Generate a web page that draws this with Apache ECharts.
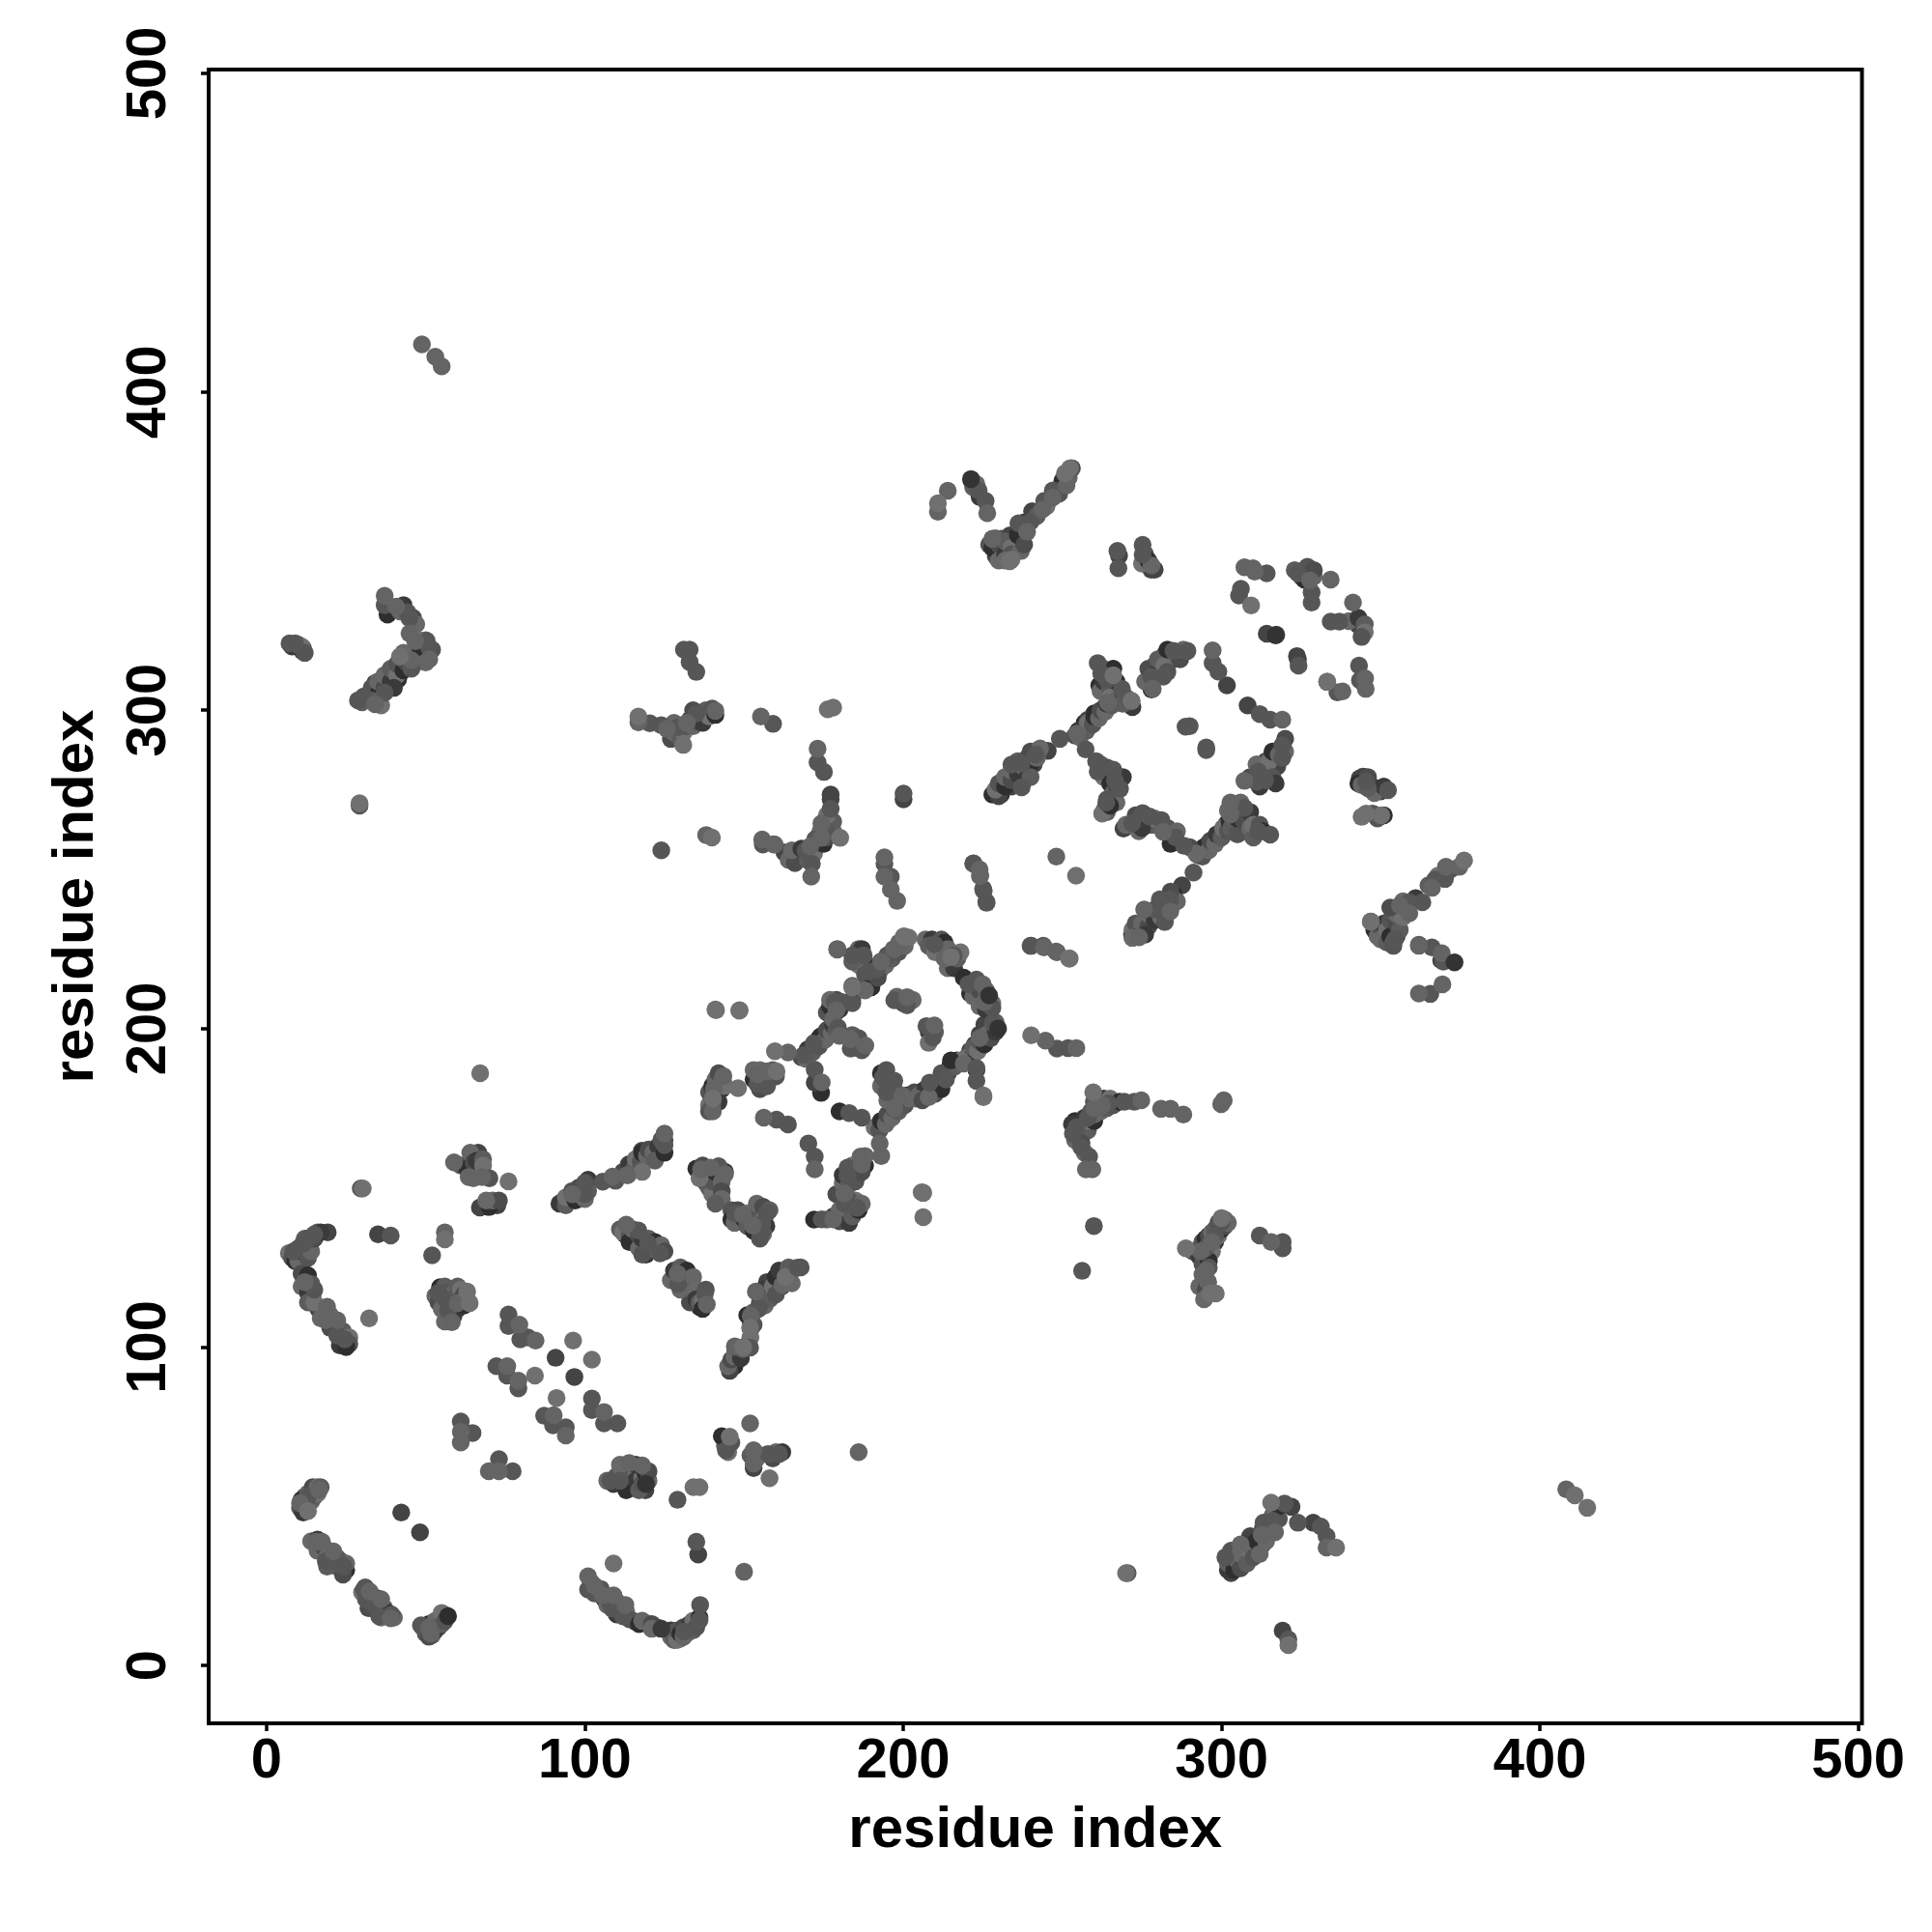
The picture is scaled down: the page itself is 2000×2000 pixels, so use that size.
<!DOCTYPE html>
<html>
<head>
<meta charset="utf-8">
<style>html,body{margin:0;padding:0;background:#fff}#c{width:2000px;height:2000px}</style>
<script src="https://cdn.jsdelivr.net/npm/echarts@6/dist/echarts.min.js"></script>
</head>
<body>
<div id="c"></div>
<script>
const axisLabelText = 'residue index';
const tickValues = [0, 100, 200, 300, 400, 500];
const toneColors = ['#2e2e2e', '#444444', '#5a5a5a', '#565656', '#646464', '#707070', '#333333'];
const bandTones = ['#4c4c4c', '#686868', '#3a3a3a', '#5c5c5c', '#707070', '#545454', '#2e2e2e', '#666666'];

// darkest contacts, mostly seen under the others
const toneDarkest = [[12,51],[13.5,52.5],[15,54.5],[23.7,30],[52,11.5],[54,13.5],[56,15],[12.2,122.8],[11,128],[54.5,118.8],[56.3,118.6],[58,114],[34.1,306.1],[36,304.5],[41.3,309.7],[144.3,71.2],[130,8.5],[129,10],[139.5,299],[137.7,298.5],[112.6,135.4],[145.5,93.4],[147,94],[156,116],[152,108.5],[119.2,129],[136,112.6],[129.1,122],[138.5,151],[141.5,147],[147.1,141.1],[149.1,139.5],[168,253.5],[170,255],[172,258],[189.1,214.9],[191,218],[193.1,221],[214.5,220],[220.5,214.4],[223,187],[214.9,188.6],[216.9,190],[191.6,168.9],[195,171],[180,174],[174.2,179.8],[143,181],[181.5,143.1],[172,195],[170.4,193],[228,353],[229.7,349.5],[231.3,351],[261.6,307.8],[260,299],[257,296],[255,293.5],[228,273.5],[230.7,273.5],[293.6,255.8],[296,258],[298,260],[300,262],[271.9,229.5],[273.6,231],[302,264.5],[308.2,265.5],[278,306.5],[350,229.5],[352,228.3],[345,279],[347.4,276],[304.5,32.5],[308.4,34],[311,36],[313,40],[161.8,119],[156,116.5],[176,262],[170,256],[206,178],[210,180]];

// dark contacts
const toneDark = [[11.4,319.5],[11.2,318.6],[38.3,311],[34.1,308.5],[48.2,41.8],[42.3,48],[56.3,15.7],[55,15],[53,12.5],[14.5,54.5],[16,55.5],[12.2,122],[14.4,116],[16.2,112],[24.6,101],[19.2,136],[12,130],[10.2,129.4],[35,135.4],[60,116],[58,117],[58.7,109.6],[67,143.8],[69.5,144],[72.5,144.5],[66.5,161],[66.5,157],[90.8,96.6],[96.7,90.6],[92.9,145.6],[95.3,146.5],[117.9,161.6],[116,159],[113.8,157.4],[121,159],[125,165],[113,138],[116.2,133],[123.6,131],[119.8,130],[131.7,123.4],[133.5,119],[133.5,116.2],[135.6,34.8],[119.9,13],[122.9,11.8],[115.7,13.8],[133,11.8],[128.3,10.6],[145.5,92.5],[147.3,98.8],[152.1,105.7],[154.5,112],[157.2,120.4],[158.2,117.4],[162.3,122],[165,124],[142,149.7],[138,151.7],[154.2,143],[155,140],[182.5,140.1],[181,143],[178,141],[172.2,183],[174.9,198],[176.4,199.8],[173.4,196.7],[186,154.3],[193.1,170.4],[197.2,174.5],[221,193],[222.5,195],[224,198.2],[225.5,201.3],[211.4,226],[213.4,224.5],[205,180],[208.8,180],[184,209],[187.6,222],[188.6,219],[240.5,362.5],[236.2,352.7],[233.5,354.9],[230.7,353.8],[229.1,348.4],[221.5,372],[177.2,273.5],[177.2,272],[176.4,263.8],[162.7,255.3],[200.1,272],[267.8,348.5],[277.9,344.1],[279,344.1],[276.8,346.8],[326.1,344],[327,343],[327.8,342],[341.9,327.8],[343,326.7],[344,325.7],[317.2,323.7],[314.2,324],[323.7,317],[324,316],[301.7,307.8],[308.2,301.5],[282.2,317.5],[285,316],[279,314],[281,311],[263,311],[264,305],[266,309],[263.3,300.7],[258,297],[230,273],[234,276],[237,279],[241,283],[245.4,287.2],[263.3,268.8],[265.4,273],[269.2,262.8],[272,264],[301.7,264.5],[303,262],[299,261],[295.8,258],[307.2,262],[276.3,233.6],[274,229],[279,236],[282,233.6],[287.6,245],[343.4,278.6],[344.4,279.1],[349.4,275.1],[350,274.5],[347.9,267.3],[354,231.1],[352.5,230],[369,221.5],[303,29],[304.2,32.8],[307,34],[310,37],[309,40.6],[312.6,37.6],[319.2,10.9],[322,49.8],[328.8,44.8],[119,55],[112,56.8],[115,56.2],[314,284],[317.5,282.3],[315,279],[138,152],[153,62]];

// filler contacts that thicken the dense bands
const bandDiagonals = [[254,292],[255.5,291.5],[256,294],[257.5,293.5],[258,296],[259.5,295.5],[260,298],[261.5,297.5],[262,300],[263.5,299.5],[264,302],[265.5,301.5],[292.5,254.5],[294,254],[294.5,257],[296,256],[296.5,259],[298,258],[298.5,261],[300,260],[300.5,263],[302,262],[302.5,265],[304,264],[168,191],[169.5,190.5],[170,193.5],[171.5,192.5],[172,195.5],[173.5,194.5],[174,197.5],[175.5,196.5],[176,199.5],[177.5,198.5],[178,201],[179,199.5],[189,216],[190.5,215],[191,219],[192.5,218],[193,221],[194.5,220],[195,223],[196.5,222],[197,225],[198.5,224],[199,227],[200.5,226],[201,228.5],[220,191],[221.5,190.5],[222,194],[223.5,193],[224,196],[225.5,195],[226,198],[227.5,197],[228,200],[229,199],[229,202],[191,169],[192.5,168],[193,171],[194.5,170],[195,173],[196.5,172],[197,175],[198.5,174],[199,177],[200.5,176],[201,179],[202,178],[203.5,180],[205,179],[207,181],[209,182],[211,183],[210,179.5],[212,181],[204,178],[206,177.5],[208,178.5],[214,186],[216,188],[218,190],[212,186],[215,190],[219,189],[112,155],[113.5,154],[114,157],[115.5,156],[116,159],[117.5,158],[118,161],[119.5,160],[120,162],[121.5,161],[123,163],[122,158.5],[118,155],[124,165],[125,161]];
const bandLower = [[145,94],[146,96],[147,97],[149,96.5],[150,100],[152,103],[153,107],[151,110],[153,111],[155,114],[156.5,113],[156,118],[158,115],[159,119],[160,116.5],[160,122],[162,119.5],[164,122],[165,120],[161,124],[164,125],[163,122],[10.5,49.5],[11.5,49],[12,50],[13,50.5],[14,51.5],[14,53],[15,53],[16,54],[12,53],[11,52],[13,54],[14.5,56],[16,56],[11.5,48],[17,56],[7,129.5],[8,128],[9,127],[9,130],[10,131],[10,127],[11,130],[12,132.5],[13,131],[13,128],[14,133],[14,130],[15,134],[16,136],[17,136],[12,134],[49,12],[50,10],[51,13],[52,9.5],[53,11],[53,14],[54,12],[55,13],[55,16.5],[56,14],[57,15.5],[50,11.5],[51,9],[127,9],[127,11],[128,8],[129,8],[129,11],[130,10],[131,9],[131,12],[132,10],[133,13],[134,11],[134,14],[135,12],[136,15],[53,116],[54,114],[55,112],[55,117],[56,119],[57,113],[57,117],[58,110],[58,112],[59,115],[59,117],[60,112],[60,119],[61,118],[61,115],[62,113],[56,108],[62,116.5],[107,58],[109,57],[110,59.5],[112,60],[113,58],[113,55],[114,60],[115,62],[116,60],[116,58],[117,55],[118,59],[118,57],[119,60.5],[120,58],[120,61],[111,63],[116,63],[111,137],[112,136],[114,135],[114,133],[115,137],[117,135],[117,131],[118,134],[120,134],[121,131],[118,129],[122,133],[124,132],[125,130],[127,121],[128,124],[130,125],[131,121],[132,119],[132,124],[134,122],[133,114],[135,118],[135,115],[136,114],[137,114.5],[138,118],[137,112],[130,118],[11,123],[11,119],[13,117],[13,114],[15,114],[15,118],[13,122.5],[17,109],[20,106],[20,110],[23,100.5],[24,105],[26,103],[26,101],[25,100],[16,36],[18,37],[19,34],[21,33],[22,31],[22,34],[23,33],[25,30],[25,32],[24,28.5],[14,39],[16,39.5],[19,31],[30,23],[31,24.5],[32,22],[33,22],[34,20],[34,17.5],[35,18],[37,18],[36,15],[37,16],[38,16.5],[40,15],[32,18],[33,21],[35,21],[102,26],[104,23],[105,24],[106,21],[107,19],[108,20],[110,20],[110,16],[111,18],[113,17],[114,14.5],[117,13],[118,14],[121,13],[121,11.5],[124,11.5],[144,69],[145,67],[146,70],[143,72],[155,66],[159,65],[160,67],[162,67],[152,66],[154,65],[61,157],[63,156],[64,161],[65,158],[65,153],[66,158.5],[68,159],[68,157],[70,153],[70,144],[71,146],[73,146],[69,146],[92,145],[94,144.5],[94,147],[96,149],[97,146],[98,148],[98,150],[100,146.5],[101,152.5],[101,149]];
const bandLattice = [[139,176],[139,180],[140,182],[141,184],[142,186],[141,179],[142,177],[143,184],[144,182],[139,174],[153,184],[153,187],[155,181],[155,187],[158,184],[159,187],[156,185],[160,185],[135,156],[137,154],[137,157],[138,155],[139,153],[139,150],[140,148],[140,152],[141,155],[143,152],[143,149],[143,146.5],[144,155],[141,145],[136,153],[146,143],[146,140],[147,139],[148,143],[149,141],[150,140],[151,138],[151,142],[153,141],[153,136.5],[154,145],[156,144],[156,140],[157,138],[158,143],[156,135.5],[155,134],[172,140],[176,140],[180,139.5],[180,143],[183,139],[184,141],[185,146],[183,146],[186,143],[187,145],[179,148],[181,151.5],[181,154],[183,151],[184,157],[185,152],[188,157],[188,160],[187,155],[207,228],[209,228],[208,226],[210,224],[212,228],[213,227],[214,225],[216,221],[214,219],[216,219],[217,222],[218,224],[222,212],[221,211],[222,210],[224,212],[224,207],[226,206],[226,212],[228,208],[228,206.5],[219,216],[198,210],[200,208],[203,209],[208,199],[210,199],[208,195.5],[176,205],[177,207],[178,203],[179,209],[177,209],[180,206],[184,198],[185,194],[186,197],[193,186],[193,182],[195,183],[195,177.5],[197,181],[198,178],[186,220],[188,217],[190,213],[188,212],[192,216],[186,225],[187,225],[184,221]];
const bandUpper = [[229,275],[230,277],[232,276],[232,279],[234,278],[234,281],[236,280],[236,284],[238,282],[239,285],[240,283],[242,285],[240,287],[243,288],[238,278],[240,279],[272,231],[273,233],[275,230],[275,233],[277,232],[277,236],[279,234],[280,237],[281,235],[283,238],[285,242],[286,240],[284,243],[272,228.5],[276,229.5],[30,302.5],[32,304],[33,307],[35,305],[35,309],[37,307],[37,311],[39,309],[39,313],[41,311],[41,314.5],[43,312.5],[43,316],[47,315],[48,318],[40,307],[33,303],[36,301.5],[48,320],[38,330],[42,331],[46,329],[47,327],[43,333],[50,322],[48,322],[52,319],[47,318],[50,315],[44,315],[43,318],[8,320],[10,320.5],[11,320],[12,318],[348,231],[349,229],[350,232],[350,228],[351,233],[352,227],[352,231],[353,234],[353,229],[354,227],[355,233],[355,236],[355,229],[356,231],[357,235],[354,226],[254,171],[255,167],[256,169],[256,166],[257,172],[258,168],[258,171],[259,174],[260,171],[260,173],[261,177],[262,174],[263,178],[264,175],[265,178],[266,176],[268,177],[254,165],[256,164],[257,161],[253,170],[291,130],[293,131],[294,133],[295,134],[296,132],[296,135],[297,136],[298,133],[298,137],[299,135],[299,139],[300,137],[301,140],[301,138],[302,139],[293,128.5],[295,129],[297,130],[294,126],[296,127],[293,119],[295,118],[294.5,115],[302,30],[302,32],[303,34],[303,36],[304,30],[305,33],[306,30.5],[306,35],[307,38],[308,32],[309,36],[310,34],[311,39],[312,35],[313,43],[314,39],[315,43],[316,47],[317,48],[318,46],[318,50],[306,38],[127,291],[128,293],[129,295],[130,291],[131,293],[132,295],[133,297],[134,295],[135,296.5],[136,298],[137,296],[138,300],[139,298],[140,300.5],[141,298.5],[128,296],[134,300],[262,306],[263,309],[265,307],[265,304],[267,303],[267,309],[268,304],[269,305],[270,304],[272,301],[269,302],[263,313],[264,309.5],[266,313],[276,309],[277,313],[278,308],[280,312],[280,316],[282,314],[283,312],[283,319],[286,317],[287,316],[288,319],[279,310],[262,283],[263,279],[264,282],[265,277],[266,274],[267,276],[267,271],[269,279],[264,268],[262.5,267.5],[264,272],[265,270],[270,264],[273,267],[274,262],[276,265],[278,264],[279,266],[283,263],[284,258],[286,262],[290,257],[292,255],[275,263],[303,263],[304,268],[305,261],[305,266],[306,271],[307,265],[309,263],[309,268],[310,260],[310,264],[312,264],[313,262],[302,268.5],[309,279],[311,283],[312,276],[313,281],[315,284],[316,279],[316,287],[318,286],[320,291],[320,287],[317,277],[323,344],[325,342],[327,345],[326,341],[329,342],[329,344],[340,328],[343,329],[345,327],[345,324.5],[344,323],[343,277],[344,276.5],[346,279],[348,274],[351,276],[346,275.5],[344,266.5],[349,266],[351,267],[164,253],[166,252],[165,256],[168,256.5],[170,253],[172,255],[173,260],[175,258],[174,262],[176,260],[178,262],[176,265],[178,265],[176,267],[227,352],[228,351],[229,354],[230,352],[230,347],[232,349],[232,353],[234,351],[234,349],[236,355],[237,350],[238,352],[232,347],[238,359],[242,361],[245,364],[249,368],[250,372],[252,373],[253,376],[223,371],[224,367],[222,370],[275,346],[276,349],[277,347],[278,345.5],[353,238],[357,240],[361,241],[365,245],[368,248],[372,250]];

// middle grey contacts
const toneMid = [[13,53],[18.6,32.8],[20.4,32.8],[24.2,31],[23.4,31.6],[31.2,20.8],[33.5,19],[30.6,23.8],[35.4,15.4],[39.2,16],[48.5,12.6],[13.2,134.2],[15,135.4],[11.4,132.4],[8.4,130],[14.1,119.8],[22.2,103.6],[24.6,102.4],[39,135],[52,128.8],[54,117],[56.3,115],[57,111.4],[76,110.2],[76,106.6],[79.7,102.4],[82.1,103],[72.2,94],[75.6,91],[79.1,87],[87.2,78.4],[90,75.4],[94,74.8],[102.2,83.8],[102.2,80.2],[106,76],[110.2,76],[61,76.6],[64.7,73],[73,64.8],[77.3,61],[108,58],[111,58],[129.1,52],[135,38.8],[144.3,67.6],[161,66.4],[157.5,66.4],[101,23.8],[103,22.6],[108.6,17.8],[112,15.4],[136,14.2],[136.2,19],[131.2,10.6],[100,151.6],[100,148],[105.6,151.9],[109.6,152.2],[125,163.4],[116.8,136.6],[119.8,132.6],[123.6,129.4],[129.3,119.8],[137.7,116.8],[147.3,100],[151.9,99.8],[154.7,112.3],[166.8,124.9],[167.8,125],[140.2,176.5],[142,156.8],[147.1,142],[157.2,142.1],[155.7,138.6],[155.7,136],[174.4,140.1],[181.5,145],[185.5,143.7],[182.5,153.8],[182.5,156.3],[170.2,163.9],[172.2,159.8],[163.8,169.9],[160.2,171.4],[154.2,182.6],[157.2,181.9],[168.8,191.7],[171.9,195.2],[179.5,200.3],[183.5,193.7],[187,193.2],[172.2,187.1],[178.5,208.3],[181,208.3],[184,208],[189.1,217.9],[191.6,218.5],[195.2,223],[179.3,225],[184,223],[187.6,223],[209.8,226.5],[215.9,223],[220.5,214],[223,215.4],[197.2,208.9],[201.2,207.3],[207.3,200.8],[209.3,197.2],[228.1,201.8],[223,187.6],[223,183.6],[213.4,184],[208.3,183],[194.7,187],[193.6,184.6],[197.2,183.6],[194.7,180],[187,172],[183,173.5],[240.2,226],[248.3,224],[251.8,193.9],[248.3,193.7],[259.9,177],[264.5,176.5],[269.5,177],[272.6,177],[258,172],[254.4,169],[253.3,167],[255.9,162.8],[258.4,159.8],[259.9,138],[256.2,123.9],[270.5,29],[312,135],[319.2,131],[319.2,133],[296,125],[300,139],[298,135],[295,131],[321,8.2],[331.2,43.6],[333,40.6],[324,44.8],[319.8,50.8],[313.2,44.8],[316.2,45.4],[301.2,34],[29.6,149.8],[29.2,270],[9,321],[7.2,321],[37.1,333],[44.3,330.7],[44.9,328.9],[50.3,321.7],[50.9,319.9],[45.5,313],[37.1,305.5],[30.5,304.3],[28.7,303.1],[132.9,319],[131.1,319],[132.9,315.1],[135,312],[120.4,295.9],[124,295.3],[129.3,294.7],[135,298.9],[159.1,295.7],[124,256],[155.9,257.8],[159.3,257.9],[173.1,283.6],[175.1,280.6],[177.2,269],[175.8,261.9],[172.3,259.4],[171.3,251.8],[169.3,255.8],[194.1,251.8],[196.1,247.7],[222.1,251.9],[226.1,239.8],[225.1,243.9],[200.1,273.8],[244.3,365.7],[247,369],[240,359.2],[236.2,358.7],[223.7,369],[225.9,365.7],[267.3,350],[267.6,344.6],[275.2,351.9],[275.2,348.9],[314.2,343],[306.1,338.1],[305.5,336],[324,343],[328.3,337],[328.3,333.8],[337,327.8],[334.3,327.8],[343.2,314],[343.5,309.4],[336.4,305.6],[324.2,314],[289.3,318.6],[284.9,318.6],[281.7,310.5],[277.9,310.5],[297.2,314.8],[299,312.1],[312,298.8],[315.3,297],[288.7,294.8],[290,295],[295.2,288.3],[295.2,287.5],[319.1,289],[319.1,285],[311.5,280.7],[313.7,278],[311,277.5],[261.1,314.8],[262.2,311.6],[268.7,306.7],[271,303],[249.2,291],[241.6,286.1],[237.2,283.4],[234,282.9],[237.2,275.8],[257.3,287.7],[260.6,284],[261.1,280.7],[266,281.3],[266.5,278],[268.1,275.3],[263.8,271],[271.9,264.5],[275.2,267.7],[277.4,266.6],[281.1,265.5],[285.5,260.1],[288.2,257.4],[307.2,269.3],[311.5,262],[315.3,260.9],[291.2,249],[283.9,240.6],[280.6,240.6],[279,237.4],[282.2,233.5],[222,251.8],[224.2,248.2],[225.3,243.3],[226.2,239.5],[240,226],[244,226],[345.4,277.6],[352.3,274.9],[347.4,267.5],[370.2,247],[363.1,239.7],[359,239.7],[367.1,246.8],[354.5,228.1],[362,226.3],[366.1,225.5],[369.7,221],[365.6,210.9]];

// usual grey contacts
const toneUsual = [[10.5,51],[16.5,55],[15.6,38.8],[17.4,38.8],[21,35.8],[32.4,23.2],[36,20.8],[39,14.8],[51.6,10],[51,11.8],[19,112.6],[18.6,108.4],[22.2,108.4],[12,120.4],[60,113.8],[58.2,107.8],[56,136],[79.4,107],[84.5,102],[75.6,94],[79.1,89.4],[90.2,78.6],[94,72.2],[106,79.6],[61,73.4],[61,70],[69.8,61],[73,61],[113.9,63.6],[118,62.8],[150,29.4],[153,67.6],[153,63.4],[151.9,76],[101,28],[103,25],[105.6,22],[109,22],[112.7,19],[58.9,158],[63.5,153.4],[67.7,153.4],[96,148],[108.7,153.5],[113.2,154],[125,167],[113,138.4],[129.1,123],[138.3,113.4],[149.7,99.4],[147.1,100.2],[152.1,109.8],[153.7,117.4],[136.5,155.8],[139.5,156.3],[144,154.3],[149.6,141.6],[152.7,138.1],[178,140.1],[181.5,148.2],[186.6,159.8],[187,157.3],[172.2,155.8],[156.2,172],[140.2,174],[140.5,181],[143.5,185.1],[154.2,185.6],[157.2,186.6],[163.8,192.5],[180,197.7],[183.5,196.7],[188.1,194.7],[174.4,183.1],[179,205.8],[184,213.4],[179.3,224.8],[193.1,221],[197.2,225],[198.7,227],[213,222],[225,213.9],[225.5,208.3],[201.2,209.9],[209.8,201],[224,197],[199.7,179],[197.2,175],[192.6,163.9],[193.1,160],[244.2,225.5],[244.7,196.2],[254.4,193.9],[262.5,176],[260,175],[259.4,155.8],[257.4,155.8],[281,174.8],[284,174.8],[288,173],[274.8,177.5],[300.7,177.5],[299.9,176.3],[297,133],[293.4,130],[295.2,124],[294,122.8],[295.8,120.4],[315.6,133],[312.6,41],[316.8,41.8],[333,37],[37.1,335.9],[40.7,332.5],[44.9,324.1],[46.7,321.7],[51.1,316],[45.5,315.7],[34.1,301.9],[132,296],[116.8,296.2],[125.8,294.1],[141,299.8],[155.3,298],[138.1,260.8],[155.7,259.4],[173.1,287.9],[174.3,264.4],[174.3,259.9],[170.8,257.3],[159.6,257.8],[171.1,247.7],[194.1,253.8],[196.1,243.7],[194.1,247.7],[224,250],[198.1,240.1],[224.1,247.9],[247,366.8],[243.7,363],[251.3,370.6],[238.9,356],[228,353.8],[226.4,361.9],[214,368.9],[210.9,362.3],[307.2,344.9],[309.9,344.6],[310.4,343.5],[327.8,340.8],[334.3,341],[341.3,333.8],[333.2,308.9],[338,305.9],[345.1,310],[345.3,306.7],[278.4,306.7],[297.2,318.8],[319.1,297],[307.2,277.8],[254.6,292.6],[271.7,302.9],[264.3,302.4],[281.7,261.8],[302.8,271],[302.8,267.2],[283.9,236.8],[275.7,237.4],[274.1,228.7],[248.1,254],[248,224.2],[346.9,233.6],[362,211],[369.4,213.9],[370.5,250.8],[366.1,244.2],[374.7,250.8],[356,238.7],[359,236.2],[369.2,223.7],[362,226],[408.3,55.3],[186,67],[48.8,414.9],[53,411],[55,408]];

// light contacts, lying over the others
const toneLight = [[13,48.5],[32.2,109],[30.2,149.8],[56,133.8],[63,117.4],[63.8,113.8],[84.3,91],[91.1,84],[102.2,96],[96.3,102],[109,32],[134.1,56],[136,56],[158,58.8],[145.5,71.8],[76,152],[149.7,100],[151.9,106],[140.2,178],[148.1,181.3],[160.2,186.6],[159.7,192.9],[148.6,205.8],[141.2,205.8],[206.3,148.4],[205.8,148.6],[206.3,140.8],[67.1,186],[141,206],[148.5,205.6],[184,213],[201.7,228.6],[200.2,229],[215,222.5],[225.2,179],[225.2,178.5],[252.3,222],[252.1,222],[240.2,197.9],[270,29],[288.8,131],[300,140.5],[298.2,116.8],[296.4,116.8],[315.6,51.1],[336,37],[321,6.4],[411,53.4],[414.9,49.5],[29.2,270.8],[41.9,316.9],[116.8,298],[130.9,289.1],[139.9,260],[180.2,259.9],[178,300.8],[176.3,300.3],[252.4,376],[250.8,374.4],[233.5,346.8],[234,347.3],[210.9,365],[309.3,332.9],[333.2,308.9],[271.7,302.9],[266,311],[254.3,248],[376.2,252.8],[350.2,267],[345.4,267.5],[346.9,233.6],[259.7,180]];

// dark contacts drawn last
const toneDarkTop = [[119.2,57],[221.3,372.6],[373.2,220.8],[227,210.4],[229.8,200],[317,323.5]];

const toneBand = [].concat(bandDiagonals, bandLower, bandLattice, bandUpper);
const groups = [toneDarkest, toneDark, toneBand, toneMid, toneUsual, toneLight, toneDarkTop];

const chart = echarts.init(document.getElementById('c'), null, {renderer: 'canvas'});
const textStyle = {fontFamily: '"Liberation Sans", Arial, sans-serif', fontWeight: 'bold', fontSize: 58, color: '#000'};
function axis(extra) {
  return Object.assign({
    type: 'value', min: -18.2, max: 501.2,
    name: axisLabelText, nameLocation: 'middle',
    nameTextStyle: Object.assign({}, textStyle, {fontSize: 60}),
    splitLine: {show: false},
    axisLine: {show: false, onZero: false},
    axisTick: {show: true, length: 8, lineStyle: {color: '#000', width: 3.5}, customValues: tickValues},
    axisLabel: Object.assign({}, textStyle, {customValues: tickValues, hideOverlap: false, showMinLabel: true, showMaxLabel: true})
  }, extra);
}
const xAxis = axis({nameGap: 81});
xAxis.axisLabel.margin = 11;
const yAxis = axis({nameGap: 107});
yAxis.axisLabel.margin = 32;
yAxis.axisLabel.rotate = 90;
yAxis.axisLabel.align = 'center';
yAxis.axisLabel.verticalAlign = 'bottom';

chart.setOption({
  animation: false,
  backgroundColor: '#fff',
  grid: {left: 216, top: 72, width: 1711.5, height: 1712, show: true, borderColor: '#000', borderWidth: 4, backgroundColor: 'transparent', containLabel: false},
  xAxis: xAxis,
  yAxis: yAxis,
  series: groups.map((g, i) => ({
    type: 'scatter', data: g, symbol: 'circle', symbolSize: 18.5, z: 2 + i,
    itemStyle: {color: g === toneBand ? (p => bandTones[p.dataIndex % bandTones.length]) : toneColors[i], opacity: 1},
    silent: true, large: false
  }))
});
</script>
</body>
</html>
